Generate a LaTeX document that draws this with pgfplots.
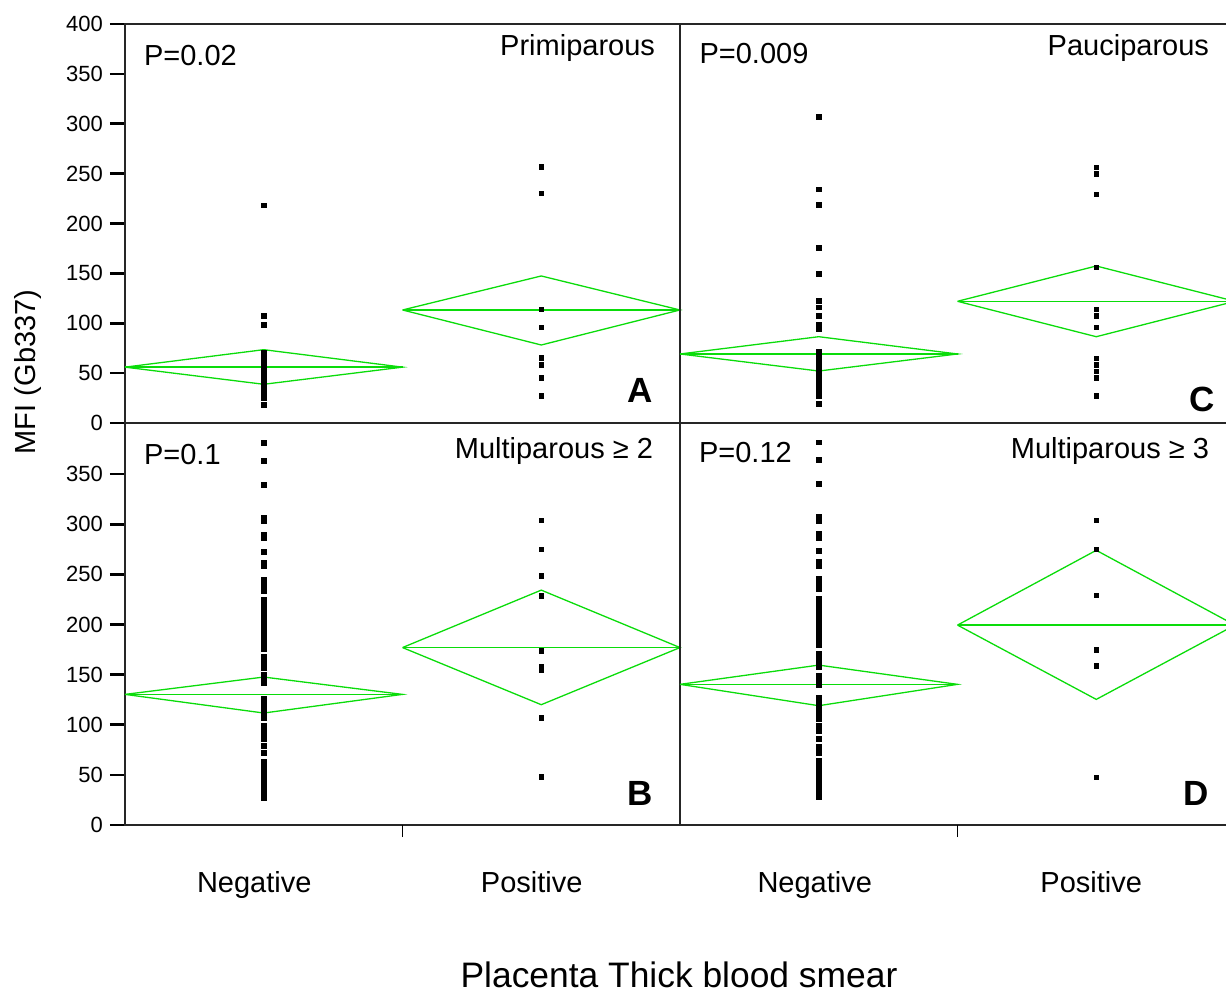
\documentclass[border=0pt]{standalone}
\usepackage{fontspec}
\setmainfont{Liberation Sans}
\usepackage{pgfplots}
\pgfplotsset{compat=1.18}
\definecolor{dgreen}{RGB}{10,220,10}
\newcommand\lab{\fontsize{14.5}{17}\selectfont}
\newcommand\panelletter{\fontsize{17.5}{20}\selectfont\bfseries}
\pgfplotsset{
  panel/.style={scale only axis, width=277.5pt, xmin=0.5, xmax=2.5, ymin=0,
    axis line style={line width=0.6pt, black!85}, clip=false,
    xtick=\empty, ytick=\empty, xtick pos=bottom,
    /pgf/number format/assume math mode=true,
    tick label style={font=\fontsize{11}{13}\selectfont}},
  leftticks/.style={ytick pos=left, tick align=outside, major tick length=7.5pt,
    ytick style={line width=1.3pt, black}},
  bottick/.style={extra x ticks={1.5}, extra x tick labels={},
    extra x tick style={tick align=outside, major tick length=6pt, xtick pos=bottom,
      tick style={line width=0.5pt, black}}},
  pts/.style={only marks, mark=square*, mark size=1.15pt, black},
  dia/.style={dgreen, line width=0.65pt, mark=none},
}
\begin{document}
\begin{tikzpicture}
\useasboundingbox (0,0) rectangle (613pt,496pt);
% ---------------- A: Primiparous
\begin{axis}[panel, leftticks, at={(62.5pt,284.5pt)}, anchor=south west,
  height=199.5pt, ymax=400, ytick={0,50,...,400}]
\addplot[pts] coordinates {(1,218) (1,107.5) (1,98.5) (1,70) (1,66) (1,63) (1,58) (1,56) (1,54) (1,52) (1,50) (1,48) (1,46) (1,44) (1,42) (1,40) (1,38) (1,36) (1,34) (1,32) (1,30) (1,28) (1,25) (1,18)};
\addplot[pts] coordinates {(2,257) (2,230) (2,114) (2,96) (2,65.5) (2,58) (2,45) (2,27)};
\addplot[dia] coordinates {(0.5,56) (1,73.5) (1.5,56) (1,38.8) (0.5,56)};
\addplot[dia] coordinates {(0.5,56) (1.5,56)};
\addplot[dia] coordinates {(1.5,113.3) (2,147.4) (2.5,113.3) (2,78.2) (1.5,113.3)};
\addplot[dia] coordinates {(1.5,113.3) (2.5,113.3)};
\node[anchor=base west, font=\lab, xshift=6pt, yshift=-21pt] at (rel axis cs:0,1) {P=0.02};
\node[anchor=base east, font=\lab, xshift=-9pt, yshift=-16pt] at (rel axis cs:1,1) {Primiparous};
\node[anchor=base east, font=\panelletter, xshift=-10pt, yshift=10pt] at (rel axis cs:1,0) {A};
\end{axis}
% ---------------- C: Pauciparous
\begin{axis}[panel, at={(340pt,284.5pt)}, anchor=south west,
  height=199.5pt, ymax=400]
\addplot[pts] coordinates {(1,306.7) (1,234.3) (1,218.5) (1,175.7) (1,149.7) (1,122.6) (1,116) (1,107.3) (1,99) (1,94) (1,71) (1,69) (1,67) (1,65) (1,63) (1,61) (1,59) (1,57) (1,55) (1,53) (1,51) (1,49) (1,47) (1,45) (1,43) (1,41) (1,39) (1,37) (1,35) (1,33) (1,31) (1,29) (1,27) (1,19)};
\addplot[pts] coordinates {(2,256.3) (2,249.6) (2,229.2) (2,156.1) (2,114) (2,107.3) (2,96) (2,64.9) (2,58.1) (2,51.8) (2,45.1) (2,27.1)};
\addplot[dia] coordinates {(0.5,69.2) (1,86.5) (1.5,69.2) (1,52.1) (0.5,69.2)};
\addplot[dia] coordinates {(0.5,69.2) (1.5,69.2)};
\addplot[dia] coordinates {(1.5,122) (2,157.4) (2.5,122) (2,86.5) (1.5,122)};
\addplot[dia] coordinates {(1.5,122) (2.5,122)};
\node[anchor=base west, font=\lab, xshift=6.25pt, yshift=-20pt] at (rel axis cs:0,1) {P=0.009};
\node[anchor=base east, font=\lab, xshift=-9.5pt, yshift=-16pt] at (rel axis cs:1,1) {Pauciparous};
\node[anchor=base east, font=\panelletter, xshift=-6.5pt, yshift=5.5pt] at (rel axis cs:1,0) {C};
\end{axis}
% ---------------- B: Multiparous >= 2
\begin{axis}[panel, leftticks, bottick, at={(62.5pt,83.5pt)}, anchor=south west,
  height=201pt, ymax=401, ytick={0,50,...,350}]
\addplot[pts] coordinates {(1,381) (1,363) (1,339) (1,307) (1,303) (1,290) (1,286) (1,272.5) (1,262) (1,258) (1,245) (1,241) (1,237) (1,233) (1,225) (1,221) (1,217) (1,213) (1,209) (1,206) (1,202) (1,198) (1,194) (1,190) (1,186) (1,182) (1,178) (1,175) (1,168) (1,164) (1,160) (1,157) (1,150) (1,146) (1,142) (1,126) (1,122) (1,118) (1,114) (1,110) (1,107) (1,99) (1,95) (1,92) (1,86) (1,79) (1,72) (1,63) (1,61) (1,59) (1,57) (1,55) (1,53) (1,51) (1,49) (1,47) (1,45) (1,43) (1,41) (1,39) (1,37) (1,35) (1,33) (1,31) (1,29) (1,27)};
\addplot[pts] coordinates {(2,304) (2,275) (2,248.5) (2,228.6) (2,173.8) (2,158) (2,155) (2,106.7) (2,48.2)};
\addplot[dia] coordinates {(0.5,130.3) (1,147.6) (1.5,130.3) (1,111.7) (0.5,130.3)};
\addplot[dia] coordinates {(0.5,130.3) (1.5,130.3)};
\addplot[dia] coordinates {(1.5,177) (2,234.3) (2.5,177) (2,120) (1.5,177)};
\addplot[dia] coordinates {(1.5,177) (2.5,177)};
\node[anchor=base west, font=\lab, xshift=6pt, yshift=-21pt] at (rel axis cs:0,1) {P=0.1};
\node[anchor=base east, font=\lab, xshift=-10pt, yshift=-18pt] at (rel axis cs:1,1) {Multiparous ≥ 2};
\node[anchor=base east, font=\panelletter, xshift=-10pt, yshift=10pt] at (rel axis cs:1,0) {B};
\node[anchor=base, font=\lab, xshift=-4.75pt, yshift=-33.5pt] at (axis cs:1,0) {Negative};
\node[anchor=base, font=\lab, xshift=-4.75pt, yshift=-33.5pt] at (axis cs:2,0) {Positive};
\end{axis}
% ---------------- D: Multiparous >= 3
\begin{axis}[panel, bottick, at={(340pt,83.5pt)}, anchor=south west,
  height=201pt, ymax=401]
\addplot[pts] coordinates {(1,381.6) (1,364) (1,340) (1,308) (1,303) (1,291) (1,286) (1,273.5) (1,263) (1,258) (1,246) (1,242) (1,238) (1,235) (1,226) (1,222) (1,218) (1,214) (1,210) (1,206) (1,203) (1,199) (1,195) (1,191) (1,188) (1,184) (1,179) (1,171) (1,167) (1,163) (1,158) (1,149) (1,144) (1,140) (1,127) (1,123) (1,119) (1,115) (1,111) (1,106) (1,99) (1,94) (1,86) (1,78) (1,72) (1,64) (1,62) (1,60) (1,58) (1,56) (1,54) (1,52) (1,50) (1,48) (1,46) (1,44) (1,42) (1,40) (1,38) (1,36) (1,34) (1,32) (1,30) (1,28)};
\addplot[pts] coordinates {(2,304) (2,275) (2,229) (2,174.5) (2,158.5) (2,47.5)};
\addplot[dia] coordinates {(0.5,140.3) (1,159.5) (1.5,140.3) (1,119) (0.5,140.3)};
\addplot[dia] coordinates {(0.5,140.3) (1.5,140.3)};
\addplot[dia] coordinates {(1.5,199.4) (2,274) (2.5,199.4) (2,125.3) (1.5,199.4)};
\addplot[dia] coordinates {(1.5,199.4) (2.5,199.4)};
\node[anchor=base west, font=\lab, xshift=6pt, yshift=-20pt] at (rel axis cs:0,1) {P=0.12};
\node[anchor=base east, font=\lab, xshift=-9.5pt, yshift=-18pt] at (rel axis cs:1,1) {Multiparous ≥ 3};
\node[anchor=base east, font=\panelletter, xshift=-9.5pt, yshift=10pt] at (rel axis cs:1,0) {D};
\node[anchor=base, font=\lab, xshift=-2pt, yshift=-33.5pt] at (axis cs:1,0) {Negative};
\node[anchor=base, font=\lab, xshift=-2.5pt, yshift=-33.5pt] at (axis cs:2,0) {Positive};
\end{axis}
\node[rotate=90, font=\lab] at (14pt,310pt) {MFI (Gb337)};
\node[anchor=base, font=\fontsize{17.7}{20}\selectfont] at (339.5pt,2.25pt) {Placenta Thick blood smear};
\end{tikzpicture}
\end{document}
